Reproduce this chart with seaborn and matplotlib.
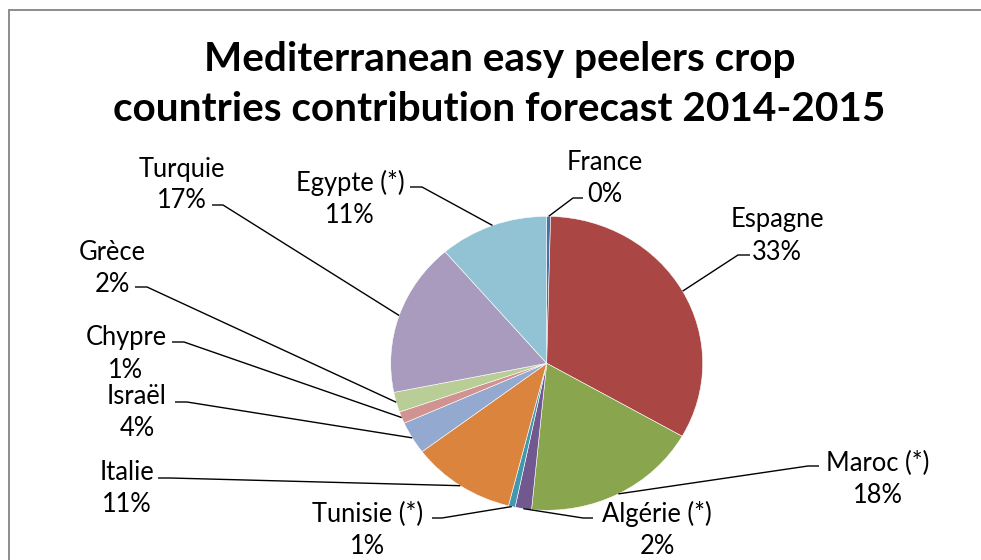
import numpy as np
import matplotlib
matplotlib.use("Agg")
import matplotlib.pyplot as plt
import matplotlib.patches as mpatches
import seaborn as sns

# ---- data ----
countries = ["France", "Espagne", "Maroc (*)", "Algérie (*)", "Tunisie (*)", "Italie",
             "Israël", "Chypre", "Grèce", "Turquie", "Egypte (*)"]
shares = [0.4, 32.9, 18.3, 1.7, 0.7, 10.8, 3.6, 1.3, 2.2, 16.9, 11.3]
title_lines = ["Mediterranean easy peelers crop",
               "countries contribution forecast 2014-2015"]
slice_colors = ["#4572A7", "#AA4643", "#89A54E", "#71588F", "#4198AF", "#DB843D",
                "#93A9CF", "#D19392", "#B9CD96", "#A99BBD", "#92C3D4"]

sns.set_theme(style="white")
plt.rcParams["font.family"] = ["Lato", "DejaVu Sans"]
palette = sns.color_palette(slice_colors)

W, H = 981, 560
fig = plt.figure(figsize=(W / 100, H / 100), dpi=100)
fig.patch.set_facecolor("white")

# chart frame (cut by the image edges on the right and bottom)
frame = mpatches.Rectangle((9 / W, -0.2), 1.5, (1 - 10 / H) + 0.2, transform=fig.transFigure,
                           fill=False, edgecolor="#8c8c8c", linewidth=1.4)
fig.patches.append(frame)

# pie geometry in pixels (layout)
CX, CY, RX, RY = 546.7, 363.3, 156.0, 147.0

def px(x, y):
    return (x - CX) / RX, -(y - CY) / RY

ax = fig.add_axes([0, 0, 1, 1])
wedges, _ = ax.pie(shares, colors=palette, startangle=90, counterclock=False,
                   radius=1.0, wedgeprops=dict(edgecolor="white", linewidth=0.4))
ax.set_aspect("auto")
x0, _ = px(0, 0)
x1, _ = px(W, 0)
_, ytop = px(0, 0)
_, ybot = px(0, H)
ax.set_xlim(x0, x1)
ax.set_ylim(ybot, ytop)
ax.axis("off")

# label layout in pixels: (text centre x, block centre y, elbow x, elbow y, label-side end x)
layout = [
    (605, 178, 573, 198, 583),
    (777, 236, 738, 255, 750),
    (878, 479, 808, 466, 819),
    (657, 530, 583, 518, 593),
    (368, 530, 442, 518, 432),
    (127, 489, 170, 478, 158),
    (137, 412, 187, 402, 175),
    (126, 354, 184, 342, 172),
    (112, 268, 147, 287, 135),
    (182, 185, 223, 205, 212),
    (350, 199, 422, 187, 410),
]

total = sum(shares)
for w, name, val, (tx, ty, ex, ey, lx) in zip(wedges, countries, shares, layout):
    mid = np.deg2rad((w.theta1 + w.theta2) / 2)
    edge = (np.cos(mid), np.sin(mid))
    p_el = px(ex, ey)
    p_lab = px(lx, ey)
    ax.plot([edge[0], p_el[0], p_lab[0]], [edge[1], p_el[1], p_lab[1]],
            color="black", linewidth=1.0, solid_capstyle="butt", zorder=3)
    tpos = px(tx, ty)
    ax.text(tpos[0], tpos[1], f"{name}\n{val / total * 100:.0f}%", ha="center", va="center",
            multialignment="center", fontsize=18.4, linespacing=1.35, color="black")

# title
fig.text(500 / W, 1 - 71 / H, title_lines[0], ha="center", va="baseline",
         fontsize=29.2, fontweight="bold", color="black")
fig.text(499.5 / W, 1 - 121 / H, title_lines[1], ha="center", va="baseline",
         fontsize=29.2, fontweight="bold", color="black")

fig.savefig("out.png", dpi=100, facecolor="white")
